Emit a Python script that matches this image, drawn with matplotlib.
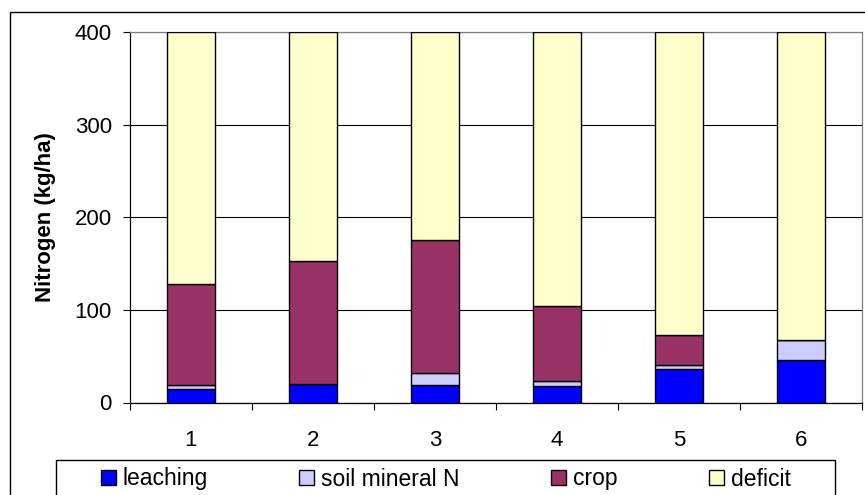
import matplotlib
matplotlib.use("Agg")
import matplotlib.pyplot as plt
from matplotlib.patches import Rectangle
import numpy as np

plt.rcParams['font.family'] = ['Liberation Sans', 'DejaVu Sans']

categories = ["1", "2", "3", "4", "5", "6"]
leaching = [14.5, 20.0, 19.0, 17.5, 36.5, 45.5]
soil_mineral_n = [4.0, 0.0, 13.0, 6.0, 4.0, 22.0]
crop = [109.0, 133.0, 143.5, 81.0, 32.5, 0.0]
deficit = [272.5, 247.0, 224.5, 295.5, 327.0, 332.5]
series_names = ["leaching", "soil mineral N", "crop", "deficit"]
y_ticks = [0, 100, 200, 300, 400]

colors = ["#0000FF", "#CCCCFF", "#993366", "#FFFFCC"]

W, H = 865, 495
fig = plt.figure(figsize=(W / 100, H / 100), dpi=100)
ax = fig.add_axes([130 / W, 1 - 402.5 / H, (862 - 130) / W, (402.5 - 32.3) / H])

x = np.arange(len(categories))
bottom = np.zeros(len(categories))
handles = []
for name, vals, c in zip(series_names, [leaching, soil_mineral_n, crop, deficit], colors):
    vals = np.array(vals)
    b = ax.bar(x, vals, width=0.4, bottom=bottom, color=c, edgecolor="black",
               linewidth=1.0, label=name, zorder=3)
    handles.append(b)
    bottom = bottom + vals

ax.set_xlim(-0.5, len(categories) - 0.5)
ax.set_ylim(0, 400)
ax.set_yticks(y_ticks)
ax.set_yticklabels([str(v) for v in y_ticks], fontsize=16)
ax.set_xticks(x)
ax.set_xticklabels(categories, fontsize=16)
ax.set_xticks(np.arange(len(categories) + 1) - 0.5, minor=True)
ax.tick_params(axis="x", which="major", length=0, pad=20)
ax.tick_params(axis="x", which="minor", length=5, width=0.8, direction="out")
ax.tick_params(axis="y", which="major", length=5, width=0.8, direction="out", pad=8)

ax.yaxis.grid(True, color="black", linewidth=0.8, zorder=0)
ax.set_axisbelow(True)
for s in ["left", "bottom"]:
    ax.spines[s].set_color("black")
    ax.spines[s].set_linewidth(0.9)
for s in ["top", "right"]:
    ax.spines[s].set_color("#808080")
    ax.spines[s].set_linewidth(0.9)

ax.set_ylabel("Nitrogen (kg/ha)", fontsize=16, fontweight="bold")
ax.yaxis.set_label_coords((56 - 130) / (862 - 130), 0.5)

# outer chart border
fig.patches.append(Rectangle((10 / W, -0.1), 1.2, 1 - 12 / H + 0.1, transform=fig.transFigure,
                             fill=False, edgecolor="black", linewidth=1.0))
# legend frame
fig.patches.append(Rectangle((56.3 / W, -0.1), (835.3 - 56.3) / W, 1 - 460 / H + 0.1,
                             transform=fig.transFigure, fill=False, edgecolor="black",
                             linewidth=1.0))

leg = fig.legend(handles=handles, labels=series_names, loc="center left",
                 bbox_to_anchor=(100.7 / W, 1 - 479 / H), ncol=4, frameon=False,
                 fontsize=16.5, handlelength=0.65, handleheight=0.65, handletextpad=0.32,
                 columnspacing=3.97, borderpad=0, borderaxespad=0)

fig.savefig("out.png", dpi=100)
